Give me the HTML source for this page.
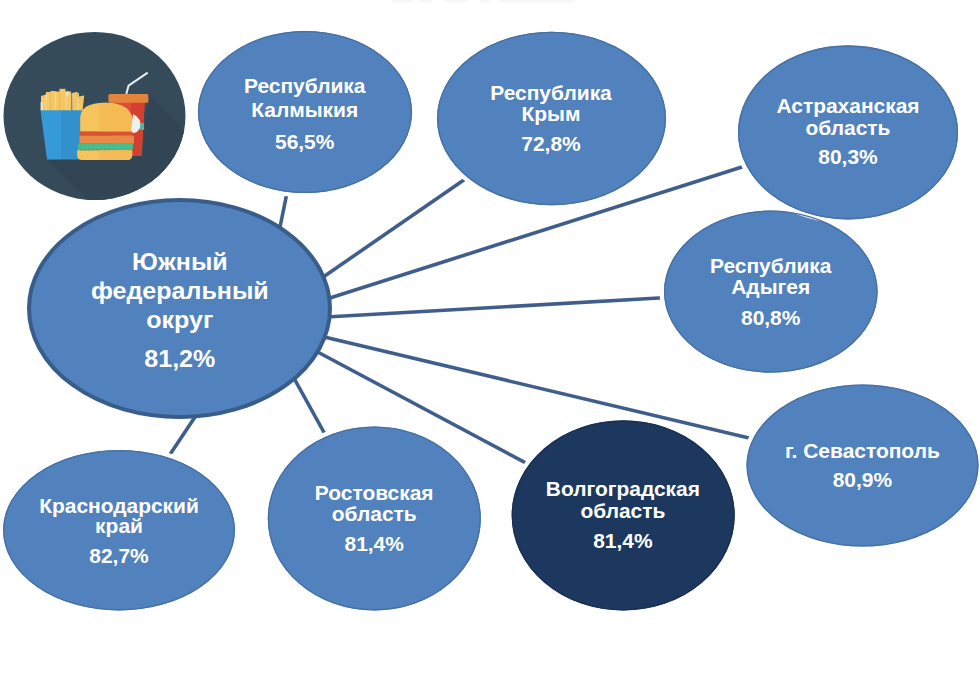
<!DOCTYPE html>
<html><head><meta charset="utf-8"><style>
html,body{margin:0;padding:0;background:#fff;width:980px;height:674px;overflow:hidden}
svg{display:block}
text{font-family:"Liberation Sans",sans-serif;font-weight:bold;fill:#fff;text-anchor:middle}
</style></head><body>
<svg width="980" height="674" viewBox="0 0 980 674">
<rect width="980" height="674" fill="#fff"/>
<g fill="#f7f7f7"><rect x="392" y="0" width="20" height="2"/><rect x="420" y="0" width="12" height="2"/><rect x="445" y="0" width="22" height="2"/><rect x="480" y="0" width="10" height="2"/><rect x="500" y="0" width="75" height="2"/></g>
<!-- connector lines -->
<g stroke="#405e8b" stroke-width="3.6" fill="none">
<line x1="288.4" y1="186.0" x2="279" y2="232"/>
<line x1="472.5" y1="173.9" x2="316" y2="282"/>
<line x1="753.7" y1="163.2" x2="322" y2="300.5"/>
<line x1="672.0" y1="297.3" x2="322" y2="317.3"/>
<line x1="759.5" y1="440.6" x2="318" y2="335.5"/>
<line x1="534.2" y1="467.4" x2="312" y2="349"/>
<line x1="329.1" y1="441.6" x2="290" y2="371"/>
<line x1="164.6" y1="462.5" x2="199" y2="411"/>
</g>
<!-- icon circle -->
<defs><clipPath id="ic"><ellipse cx="94.5" cy="116" rx="91" ry="84"/></clipPath></defs>
<ellipse cx="94.5" cy="116" rx="91" ry="84" fill="#354b5a"/>
<g clip-path="url(#ic)">
<polygon points="148.4,94 348.4,294 247,359.6 47,159.6 77,159.6 142,156 148,103" fill="#314554"/>
<polygon points="147.7,72.6 149,94 148.4,94" fill="#314554"/>
</g>
<!-- straw -->
<polyline points="126.3,94 128.6,85.6 147.7,72.6" fill="none" stroke="#e9eef0" stroke-width="2"/>
<!-- cup body -->
<polygon points="110.6,102 144.7,102 141.6,156 114,156" fill="#e14b3a"/>
<polygon points="131,102 144.7,102 141.6,156 131,156" fill="#d2412f"/>
<rect x="140" y="123" width="4" height="7" fill="#4fb3a0"/>
<!-- lid -->
<rect x="108.4" y="93.9" width="40" height="8.9" rx="1.5" fill="#e3843c"/>
<!-- fries -->
<g fill="#f5c663">
<polygon points="41,96 46,94.5 46.5,111 41,111"/>
<rect x="46" y="92" width="4.8" height="19"/>
<rect x="50.5" y="91" width="5" height="20"/>
<rect x="55" y="91.5" width="4.8" height="19.5"/>
<rect x="59.5" y="88.8" width="6" height="22.2"/>
<rect x="65.5" y="91.4" width="5.5" height="19.6"/>
<polygon points="72.5,93 77.5,91.8 79,111 73,111"/>
<polygon points="79,96.5 84.2,95.5 82.5,111 78.5,111"/>
</g>
<g fill="#fbdf96" opacity="0.85">
<rect x="45.5" y="94" width="1.2" height="17"/>
<rect x="55" y="92" width="1.1" height="19"/>
<rect x="65.2" y="92" width="1.3" height="19"/>
<rect x="71.5" y="93" width="1.3" height="18"/>
<rect x="77.8" y="93" width="1.2" height="18"/>
</g>
<rect x="40.5" y="102" width="2.5" height="8.5" fill="#efe9d6" opacity="0.8"/>
<rect x="66" y="91.5" width="3" height="5" fill="#f7edd0" opacity="0.6"/>
<!-- fries box -->
<polygon points="40.5,110.3 61,110.3 61,159.6 47,159.6" fill="#379ad8"/>
<polygon points="61,110.3 81.7,110.3 79,159.6 61,159.6" fill="#3290cc"/>
<!-- burger -->
<path d="M80.2,131.8 L80.2,118 Q80.2,102.8 105,102.8 Q131.4,102.8 133,122 L133,131.8 Z" fill="#f6c45c"/>
<path d="M105,102.8 Q131.4,102.8 133,122 L133,131.8 L99,131.8 L99,103.1 Z" fill="#f4bb55"/>
<path d="M133,114 Q142,118 140,128 Q136,135 131,132 Z" fill="#eef0ee"/>
<rect x="80" y="131.6" width="52.5" height="4" fill="#d9532f"/>
<rect x="79.5" y="135.5" width="54.5" height="8.2" rx="1" fill="#e78a45"/>
<path d="M78,143.5 L133,143.5 L133,149 Q131,151 129,149.5 Q127,151 125,149.5 Q123,151 121,149.5 Q119,151 117,149.5 Q115,151 113,149.5 Q111,151 109,149.5 Q107,151 105,149.5 Q103,151 101,149.5 Q99,151 97,149.5 Q95,151 93,149.5 Q91,151 89,149.5 Q87,151 85,149.5 Q83,151 81,149.5 Q79.5,151 78,149.5 Z" fill="#47bd8d"/>
<path d="M77.2,150.2 L132.2,150.2 L132.2,155 Q132.2,160 127,160 L82,160 Q77.2,160 77.2,155 Z" fill="#f6c45c"/>
<path d="M99,150.2 L132.2,150.2 L132.2,155 Q132.2,160 127,160 L99,160 Z" fill="#f2bb57"/>
<!-- ellipses -->
<g stroke="#fff" stroke-width="9" paint-order="stroke">
<ellipse cx="305" cy="112" rx="107" ry="81" fill="#5182bd"/>
<ellipse cx="551.5" cy="118.5" rx="114.5" ry="86.7" fill="#5182bd"/>
<ellipse cx="770.8" cy="291.6" rx="106.8" ry="81" fill="#5182bd"/>
<ellipse cx="848" cy="132.4" rx="110" ry="87" fill="#5182bd"/>
<ellipse cx="862.5" cy="465.5" rx="116" ry="81" fill="#5182bd"/>
<ellipse cx="623.2" cy="515.4" rx="111.5" ry="95" fill="#1c385f"/>
<ellipse cx="374.3" cy="518.5" rx="106.5" ry="92" fill="#5182bd"/>
<ellipse cx="119" cy="530.2" rx="115.9" ry="80.2" fill="#5182bd"/>
</g>
<g fill="none" stroke-width="1.3">
<ellipse cx="305" cy="112" rx="106.4" ry="80.4" stroke="#4670a3"/>
<ellipse cx="551.5" cy="118.5" rx="113.9" ry="86.1" stroke="#4670a3"/>
<ellipse cx="770.8" cy="291.6" rx="106.2" ry="80.4" stroke="#4670a3"/>
<ellipse cx="848" cy="132.4" rx="109.4" ry="86.4" stroke="#4670a3"/>
<ellipse cx="862.5" cy="465.5" rx="115.4" ry="80.4" stroke="#4670a3"/>
<ellipse cx="623.2" cy="515.4" rx="110.9" ry="94.4" stroke="#1a3052"/>
<ellipse cx="374.3" cy="518.5" rx="105.9" ry="91.4" stroke="#4670a3"/>
<ellipse cx="119" cy="530.2" rx="115.3" ry="79.6" stroke="#4670a3"/>
</g>
<ellipse cx="179.5" cy="308.5" rx="150.5" ry="108.5" fill="#5182bd" stroke="#385d8a" stroke-width="4"/>

<!-- texts (stretched horizontally) -->
<g font-size="19.4">
<g transform="translate(304.7,0) scale(1.08,1)"><text x="0" y="92.7">Республика</text><text x="0" y="116.7">Калмыкия</text><text x="0" y="148.8">56,5%</text></g>
<g transform="translate(551,0) scale(1.08,1)"><text x="0" y="99.6">Республика</text><text x="0" y="121.4">Крым</text><text x="0" y="150.7">72,8%</text></g>
<g transform="translate(848,0) scale(1.08,1)"><text x="0" y="112.9">Астраханская</text><text x="0" y="134.9">область</text><text x="0" y="164.3">80,3%</text></g>
<g transform="translate(770.7,0) scale(1.08,1)"><text x="0" y="272.9">Республика</text><text x="0" y="293.6">Адыгея</text><text x="0" y="325">80,8%</text></g>
<g transform="translate(862.4,0) scale(1.08,1)"><text x="0" y="457.75">г. Севастополь</text><text x="0" y="487.2">80,9%</text></g>
<g transform="translate(622.9,0) scale(1.08,1)"><text x="0" y="496">Волгоградская</text><text x="0" y="517.7">область</text><text x="0" y="548">81,4%</text></g>
<g transform="translate(374.2,0) scale(1.08,1)"><text x="0" y="500.2">Ростовская</text><text x="0" y="520.6">область</text><text x="0" y="550.8">81,4%</text></g>
<g transform="translate(119,0) scale(1.08,1)"><text x="0" y="512.6">Краснодарский</text><text x="0" y="532.8">край</text><text x="0" y="563">82,7%</text></g>
</g>
<g font-size="23.2" transform="translate(179.8,0) scale(1.08,1)">
<text x="0" y="270.5">Южный</text><text x="0" y="299">федеральный</text><text x="0" y="328">округ</text><text x="0" y="367">81,2%</text>
</g>
</svg>
</body></html>
